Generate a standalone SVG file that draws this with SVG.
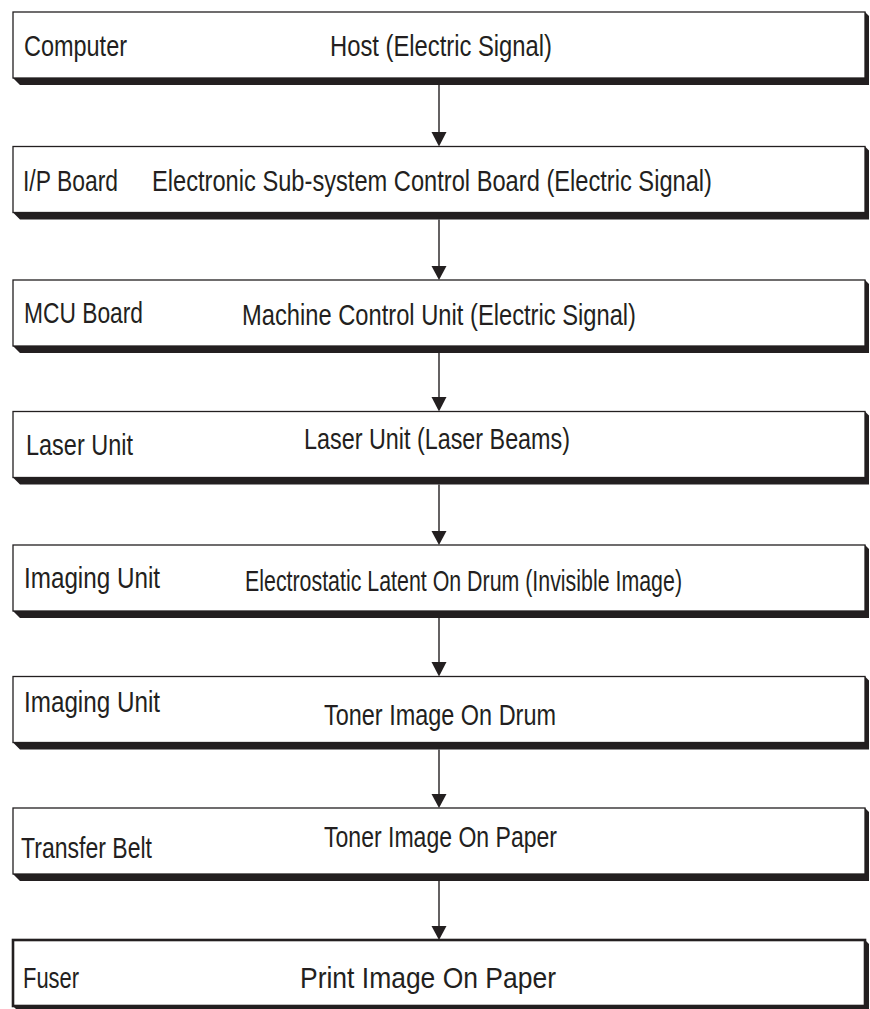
<svg xmlns="http://www.w3.org/2000/svg" width="870" height="1009" viewBox="0 0 870 1009">
  <style>
    .box { fill: #ffffff; stroke: #231f20; stroke-width: 1.3; }
    .box.last { stroke-width: 2.6; }
    .shadow { fill: #231f20; }
    .lbl { font-family: "Liberation Sans Narrow", "Liberation Sans", Arial, sans-serif; font-size: 30px; fill: #231f20; }
    .flow line { stroke: #231f20; stroke-width: 1.4; }
    .flow polygon { fill: #231f20; }
  </style>
  <rect width="870" height="1009" fill="#ffffff"/>

  <!-- connectors -->
  <g id="connectors" class="flow">
    <line x1="439" y1="85" x2="439" y2="133"/>
    <polygon points="431.5,132 446.5,132 439,146.5"/>
    <line x1="439" y1="219.5" x2="439" y2="267"/>
    <polygon points="431.5,266 446.5,266 439,280"/>
    <line x1="439" y1="353" x2="439" y2="398"/>
    <polygon points="431.5,397 446.5,397 439,411.5"/>
    <line x1="439" y1="484.5" x2="439" y2="532"/>
    <polygon points="431.5,531 446.5,531 439,545"/>
    <line x1="439" y1="618" x2="439" y2="663"/>
    <polygon points="431.5,662 446.5,662 439,676.5"/>
    <line x1="439" y1="749.5" x2="439" y2="795"/>
    <polygon points="431.5,794 446.5,794 439,808"/>
    <line x1="439" y1="881" x2="439" y2="927"/>
    <polygon points="431.5,926 446.5,926 439,940"/>
  </g>

  <g id="node-computer">
    <path class="shadow" d="M13,78 H865 V12 L869,16 V85 H20 Z"/>
    <rect class="box" x="13" y="12" width="852" height="66"/>
    <text class="lbl" x="24" y="56" textLength="103" lengthAdjust="spacingAndGlyphs">Computer</text>
    <text class="lbl" x="330" y="56" textLength="222" lengthAdjust="spacingAndGlyphs">Host (Electric Signal)</text>
  </g>

  <g id="node-ip-board">
    <path class="shadow" d="M13,212.5 H865 V146.5 L869,150.5 V219.5 H20 Z"/>
    <rect class="box" x="13" y="146.5" width="852" height="66"/>
    <text class="lbl" x="23" y="191" textLength="95" lengthAdjust="spacingAndGlyphs">I/P Board</text>
    <text class="lbl" x="152" y="191" textLength="560" lengthAdjust="spacingAndGlyphs">Electronic Sub-system Control Board (Electric Signal)</text>
  </g>

  <g id="node-mcu-board">
    <path class="shadow" d="M13,346 H865 V280 L869,284 V353 H20 Z"/>
    <rect class="box" x="13" y="280" width="852" height="66"/>
    <text class="lbl" x="24" y="323" textLength="119" lengthAdjust="spacingAndGlyphs">MCU Board</text>
    <text class="lbl" x="242" y="325" textLength="394" lengthAdjust="spacingAndGlyphs">Machine Control Unit (Electric Signal)</text>
  </g>

  <g id="node-laser-unit">
    <path class="shadow" d="M13,477.5 H865 V411.5 L869,415.5 V484.5 H20 Z"/>
    <rect class="box" x="13" y="411.5" width="852" height="66"/>
    <text class="lbl" x="26" y="455" textLength="107" lengthAdjust="spacingAndGlyphs">Laser Unit</text>
    <text class="lbl" x="304" y="449" textLength="266" lengthAdjust="spacingAndGlyphs">Laser Unit (Laser Beams)</text>
  </g>

  <g id="node-imaging-latent">
    <path class="shadow" d="M13,611 H865 V545 L869,549 V618 H20 Z"/>
    <rect class="box" x="13" y="545" width="852" height="66"/>
    <text class="lbl" x="24" y="588" textLength="136" lengthAdjust="spacingAndGlyphs">Imaging Unit</text>
    <text class="lbl" x="245" y="591" textLength="437" lengthAdjust="spacingAndGlyphs">Electrostatic Latent On Drum (Invisible Image)</text>
  </g>

  <g id="node-imaging-toner">
    <path class="shadow" d="M13,742.5 H865 V676.5 L869,680.5 V749.5 H20 Z"/>
    <rect class="box" x="13" y="676.5" width="852" height="66"/>
    <text class="lbl" x="24" y="712" textLength="136" lengthAdjust="spacingAndGlyphs">Imaging Unit</text>
    <text class="lbl" x="324" y="725" textLength="232" lengthAdjust="spacingAndGlyphs">Toner Image On Drum</text>
  </g>

  <g id="node-transfer-belt">
    <path class="shadow" d="M13,874 H865 V808 L869,812 V881 H20 Z"/>
    <rect class="box" x="13" y="808" width="852" height="66"/>
    <text class="lbl" x="21" y="858" textLength="131" lengthAdjust="spacingAndGlyphs">Transfer Belt</text>
    <text class="lbl" x="324" y="847" textLength="233" lengthAdjust="spacingAndGlyphs">Toner Image On Paper</text>
  </g>

  <g id="node-fuser">
    <path class="shadow" d="M13,1006 H865 V940 L869,944 V1013 H20 Z"/>
    <rect class="box last" x="13" y="940" width="852" height="66"/>
    <text class="lbl" x="23" y="988" textLength="56" lengthAdjust="spacingAndGlyphs">Fuser</text>
    <text class="lbl" x="300" y="988" textLength="256" lengthAdjust="spacingAndGlyphs">Print Image On Paper</text>
  </g>
</svg>
